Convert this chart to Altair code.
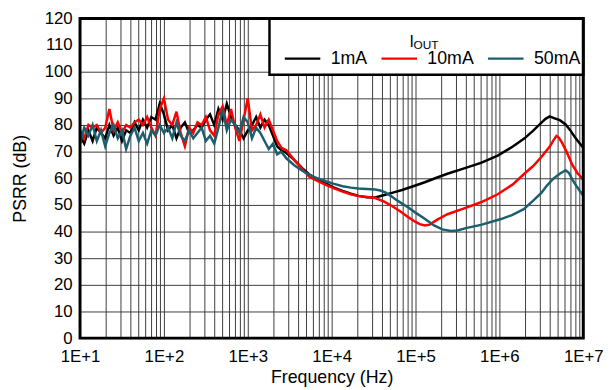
import altair as alt
import pandas as pd

# ---------------- data ----------------
series_names = ["1mA", "10mA", "50mA"]
series_colors = ["#000000", "#ff0000", "#1b5e6e"]

# log10(frequency) sample positions in the noisy low-frequency region
noise_exp = [1.00, 1.05, 1.10, 1.15, 1.20, 1.25, 1.30, 1.35, 1.40, 1.45,
             1.50, 1.55, 1.60, 1.65, 1.70, 1.75, 1.80, 1.85, 1.90, 1.95,
             2.00, 2.05, 2.10, 2.15, 2.20, 2.25, 2.30, 2.35, 2.40, 2.45,
             2.50, 2.55, 2.60, 2.65, 2.70, 2.75, 2.80, 2.85, 2.90, 2.95,
             3.00, 3.05, 3.10, 3.15, 3.20, 3.25, 3.30, 3.35, 3.40]

black_noise = [76, 73, 78, 74, 79, 77, 75, 80, 76, 79,
               74, 78, 77, 81, 78, 82, 79, 83, 82, 88,
               84, 78, 80, 75, 79, 81, 77, 78, 80, 79,
               82, 84, 80, 86, 82, 88, 83, 80, 78, 75,
               78, 80, 83, 79, 82, 80, 76, 72, 70.5]
red_noise = [78, 75, 80, 79, 80, 77, 79, 86, 78, 81,
             77, 80, 79, 81, 82, 80, 83, 79, 76, 86,
             90, 82, 80, 85, 77, 72, 79, 77, 81, 80,
             83, 78, 76, 84, 87, 80, 86, 79, 74, 82,
             90, 78, 80, 84, 79, 82, 78, 74, 71.5]
teal_noise = [73, 79, 76, 80, 74, 78, 72, 77, 80, 75,
              78, 71, 76, 79, 74, 77, 73, 78, 76, 80,
              77, 79, 75, 81, 76, 74, 78, 75, 77, 79,
              74, 76, 73, 79, 86, 78, 82, 80, 77, 83,
              81, 75, 79, 77, 74, 71, 73, 69, 70]

black_tail_exp = [3.46, 3.55, 3.65, 3.73, 3.83, 3.93, 4.03, 4.13, 4.23, 4.32,
                  4.42, 4.52, 4.64, 4.74, 4.84, 4.99, 5.11, 5.25, 5.38, 5.58,
                  5.78, 5.98, 6.16, 6.30, 6.40, 6.48, 6.55, 6.60, 6.65, 6.72,
                  6.79, 6.85, 6.91, 6.96, 7.00]
black_tail = [69.5, 67.0, 63.8, 61.5, 59.5, 58.0, 56.5, 55.3, 54.2, 53.4,
              52.9, 52.8, 53.8, 54.7, 55.6, 57.2, 58.5, 60.2, 61.7, 63.7,
              65.8, 68.5, 71.9, 75.0, 77.8, 80.2, 82.3, 83.2, 82.6, 81.8,
              80.2, 77.8, 75.0, 73.0, 71.5]

red_tail_exp = [3.46, 3.55, 3.65, 3.73, 3.83, 3.93, 4.03, 4.13, 4.23, 4.32,
                4.42, 4.52, 4.62, 4.72, 4.82, 4.91, 4.99, 5.05, 5.11, 5.17,
                5.25, 5.38, 5.58, 5.78, 5.98, 6.16, 6.30, 6.40, 6.50, 6.60,
                6.65, 6.68, 6.71, 6.75, 6.80, 6.87, 6.93, 7.00]
red_tail = [70.5, 67.0, 63.5, 60.7, 59.0, 57.5, 56.2, 55.0, 54.0, 53.3,
            53.0, 52.6, 51.3, 49.6, 47.5, 45.5, 43.8, 42.8, 42.3, 42.6,
            44.3, 46.5, 48.7, 51.0, 54.0, 57.7, 61.8, 64.5, 68.0, 71.9,
            74.5, 75.9, 75.2, 73.2, 70.0, 65.0, 62.0, 59.5]

teal_tail_exp = [3.46, 3.55, 3.65, 3.73, 3.83, 3.93, 4.03, 4.13, 4.23, 4.32,
                 4.42, 4.52, 4.58, 4.64, 4.70, 4.76, 4.84, 4.91, 4.99, 5.11,
                 5.22, 5.32, 5.42, 5.50, 5.60, 5.78, 6.02, 6.15, 6.29, 6.40,
                 6.50, 6.56, 6.64, 6.72, 6.79, 6.83, 6.87, 6.92, 6.96, 7.00]
teal_tail = [67.5, 65.0, 62.8, 61.4, 60.0, 58.9, 57.9, 57.0, 56.5, 56.2,
             56.0, 55.8, 55.4, 54.7, 53.5, 52.1, 50.5, 49.1, 47.3, 44.8,
             42.3, 40.8, 40.2, 40.4, 41.3, 42.5, 44.7, 46.2, 48.4, 51.5,
             54.5, 57.0, 59.8, 61.7, 63.0, 62.0, 59.5, 57.0, 55.2, 53.5]

y_ticks = [0, 10, 20, 30, 40, 50, 60, 70, 80, 90, 100, 110, 120]
x_ticks = [m * 10 ** e for e in range(1, 7) for m in range(1, 10)] + [10 ** 7]

# ---------------- build table ----------------
rows = []
for name, exps, vals in [
    ("1mA", noise_exp + black_tail_exp, black_noise + black_tail),
    ("10mA", noise_exp + red_tail_exp, red_noise + red_tail),
    ("50mA", noise_exp + teal_tail_exp, teal_noise + teal_tail),
]:
    for i, (e, v) in enumerate(zip(exps, vals)):
        rows.append({"series": name, "freq": 10 ** e, "psrr": v, "order": i})
df = pd.DataFrame(rows)

W, H = 510, 324
FONT = "Liberation Sans"

decade_expr = ("abs(log(datum.value)/LN10 - round(log(datum.value)/LN10)) < 0.001"
               " ? '1E+' + round(log(datum.value)/LN10) : ''")

lines = alt.Chart(df).mark_line(strokeWidth=2.5).encode(
    x=alt.X("freq:Q",
            scale=alt.Scale(type="log", domain=[10, 10 ** 7], nice=False),
            axis=alt.Axis(values=x_ticks, labelExpr=decade_expr,
                          title="Frequency (Hz)", grid=True, gridColor="#3c3c3c",
                          gridWidth=1, gridOpacity=1, ticks=False, domain=False,
                          labelFontSize=17, labelOverlap=False, labelFlush=False,
                          labelPadding=11, labelColor="black",
                          titleFontSize=18, titleFontWeight="normal",
                          titleColor="black", titlePadding=4)),
    y=alt.Y("psrr:Q",
            scale=alt.Scale(domain=[0, 120], nice=False),
            axis=alt.Axis(values=y_ticks, title="PSRR (dB)", grid=True,
                          gridColor="#3c3c3c", gridWidth=1, gridOpacity=1,
                          ticks=False, domain=False, labelFontSize=17,
                          labelPadding=8, labelColor="black",
                          titleFontSize=18, titleFontWeight="normal",
                          titleColor="black", titlePadding=15)),
    color=alt.Color("series:N",
                    scale=alt.Scale(domain=series_names, range=series_colors),
                    legend=alt.Legend(orient="none", legendX=206, legendY=21,
                                      direction="horizontal", title=None,
                                      symbolType="stroke", symbolSize=1296,
                                      symbolStrokeWidth=2.5, labelFontSize=18,
                                      labelOffset=9, columnPadding=8,
                                      padding=0, labelColor="black")),
    order="order:Q",
)

one = pd.DataFrame({"k": [0]})

legend_box = alt.Chart(one).mark_rect(fill="white", stroke="black",
                                      strokeWidth=2.5).encode(
    x=alt.value(192), x2=alt.value(W), y=alt.value(0), y2=alt.value(57))

frame = alt.Chart(one).mark_rect(fill=None, stroke="black", strokeWidth=3).encode(
    x=alt.value(0), x2=alt.value(W), y=alt.value(0), y2=alt.value(H))

title_i = alt.Chart(one).mark_text(text="I", fontSize=16, align="left",
                                   baseline="alphabetic", color="black").encode(
    x=alt.value(334), y=alt.value(29))
title_out = alt.Chart(one).mark_text(text="OUT", fontSize=12, align="left",
                                     baseline="alphabetic", color="black").encode(
    x=alt.value(338), y=alt.value(31))

chart = alt.layer(lines, legend_box, frame, title_i, title_out).properties(
    width=W, height=H,
    autosize=alt.AutoSizeParams(type="none"),
    padding={"left": 73, "top": 8, "right": 20, "bottom": 50},
).configure(font=FONT).configure_view(stroke=None)

chart.save("out.html", embed_options={"renderer": "svg", "actions": False})
